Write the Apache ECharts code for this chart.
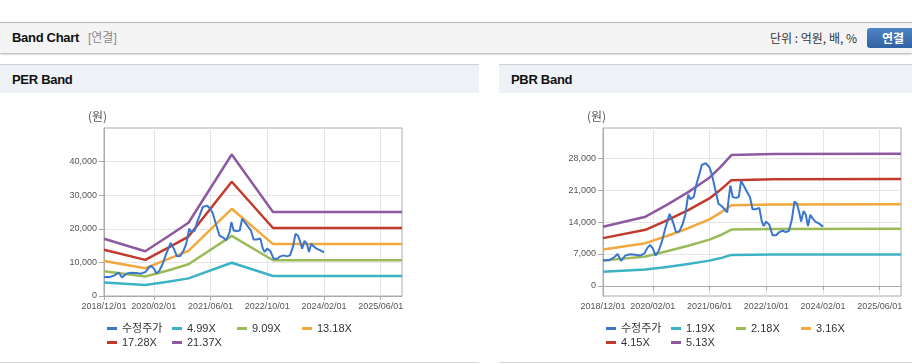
<!DOCTYPE html>
<html>
<head>
<meta charset="utf-8">
<script src="https://cdn.jsdelivr.net/npm/echarts@6/dist/echarts.min.js"></script>
<style>
  body { margin: 0; width: 912px; height: 364px; background: #fff; font-family: Arial, "Liberation Sans", "Noto Sans CJK KR", sans-serif; overflow: hidden; position: relative; }
  #top { position: absolute; left: 0; top: 22px; width: 912px; height: 30px; border-top: 1px solid #b8b8b8; background: #f4f4f4; box-shadow: 0 1px 2px rgba(0,0,0,0.35); }
  #top .title { position: absolute; left: 12px; top: 0; line-height: 30px; font-size: 13px; font-weight: bold; color: #111; letter-spacing: -0.3px; }
  #top .sub { position: absolute; left: 88px; top: 0; line-height: 30px; font-size: 12px; color: #8a8a8a; white-space: nowrap; }
  #top .unit { position: absolute; left: 770px; top: 0; line-height: 30px; font-size: 12px; color: #333; white-space: nowrap; font-family: "Noto Sans CJK KR", sans-serif; }
  #top .btn { position: absolute; left: 867px; top: 5px; width: 52px; height: 20px; line-height: 20px; border-radius: 3px; background: linear-gradient(#4f84c4, #2f62a2); color: #fff; font-size: 12px; font-weight: bold; text-align: center; font-family: "Noto Sans CJK KR", sans-serif; }
  .panel { position: absolute; top: 64px; height: 298px; border-bottom: 1px solid #d8d8d8; }
  .panel .ph { height: 28px; line-height: 30px; border-top: 1px solid #d0d0d0; background: #eef1f6; padding-left: 12px; font-size: 13px; font-weight: bold; color: #111; letter-spacing: -0.3px; }
  .panel .chart { position: absolute; left: 0; top: 29px; height: 269px; }
</style>
</head>
<body>
<div id="top">
  <div class="title">Band Chart</div>
  <div class="sub">[연결]</div>
  <div class="unit">단위 : 억원, 배, %</div>
  <div class="btn">연결</div>
</div>
<div class="panel" style="left:0;width:479px">
  <div class="ph">PER Band</div>
  <div class="chart" id="per" style="width:479px"></div>
</div>
<div class="panel" style="left:499px;width:413px">
  <div class="ph">PBR Band</div>
  <div class="chart" id="pbr" style="width:413px"></div>
</div>
<script>
// x-axis tick labels
var xTicks = ['2018-12-01', '2020-02-01', '2021-06-01', '2022-10-01', '2024-02-01', '2025-06-01'];
var xStart = '2018-12-01';
var xEnd = '2025-12-01';

// 수정주가 (adjusted price)
var priceDates = ['2018-12-01','2019-01-20','2019-03-01','2019-04-05','2019-05-05','2019-06-10','2019-07-20','2019-09-05','2019-10-15','2019-11-22',
  '2019-12-20','2020-01-10','2020-02-03','2020-02-25','2020-03-22','2020-04-18','2020-05-18','2020-06-25','2020-07-22','2020-08-18',
  '2020-09-15','2020-10-15','2020-11-06','2020-12-01','2020-12-20','2021-01-18','2021-02-07','2021-03-01','2021-03-28','2021-05-01',
  '2021-06-01','2021-06-22','2021-07-22','2021-08-18','2021-09-18','2021-10-15','2021-11-01','2021-11-13','2021-11-28','2021-12-18',
  '2022-01-15','2022-02-08','2022-02-28','2022-03-22','2022-04-18','2022-05-15','2022-06-06','2022-07-03','2022-08-03','2022-08-25',
  '2022-09-10','2022-10-01','2022-10-28','2022-11-25','2022-12-25','2023-01-22','2023-02-20','2023-03-18','2023-04-15','2023-05-10',
  '2023-06-01','2023-06-22','2023-07-12','2023-07-28','2023-08-18','2023-09-06','2023-09-25','2023-10-15','2023-11-03','2023-11-28',
  '2024-01-01','2024-02-01'];
var priceValues = [5650, 5650, 6150, 7000, 5500, 6650, 6950, 6850, 6650, 7150,
  8450, 8950, 8150, 6650, 7650, 9600, 12600, 15800, 14100, 11800,
  11900, 13600, 15600, 20000, 19000, 19500, 22000, 24000, 26500, 26900,
  26000, 24500, 21000, 18000, 17400, 16600, 16100, 19000, 22000, 19500,
  19300, 19500, 23000, 22000, 20700, 19500, 16800, 16800, 17100, 14100,
  13100, 14100, 13400, 11100, 11100, 11800, 12100, 11800, 12100, 14600,
  18500, 18000, 16100, 14100, 16400, 15600, 13100, 15600, 14800, 14100,
  13600, 13000];

// PER band
var perNames = ['수정주가', '4.99X', '9.09X', '13.18X', '17.28X', '21.37X'];
var perBandDates = ['2018-12-01', '2019-11-20', '2020-06-01', '2020-11-25', '2021-12-01', '2022-11-20', '2025-12-01'];
var per499 = [4050, 3250, 4250, 5250, 9900, 5950, 5950];
var per909 = [7350, 5800, 7600, 9450, 17900, 10650, 10650];
var per1318 = [10400, 8250, 10950, 13450, 25950, 15450, 15450];
var per1728 = [13750, 10750, 14350, 17700, 34000, 20250, 20250];
var per2137 = [17050, 13300, 17700, 21800, 42100, 25000, 25000];
var perYTicks = [0, 10000, 20000, 30000, 40000];

// PBR band
var pbrNames = ['수정주가', '1.19X', '2.18X', '3.16X', '4.15X', '5.13X'];
var pbrBandDates = ['2018-12-01', '2019-12-01', '2020-06-01', '2020-12-01', '2021-06-01', '2021-09-01', '2021-12-07', '2022-12-01', '2025-12-01'];
var pbr119 = [3100, 3600, 4150, 4800, 5550, 6050, 6800, 6880, 6900];
var pbr218 = [5550, 6450, 7600, 8800, 10150, 11100, 12350, 12480, 12520];
var pbr316 = [8000, 9370, 10950, 12650, 14600, 16000, 17670, 17850, 17880];
var pbr415 = [10480, 12300, 14350, 16600, 19170, 21000, 23180, 23380, 23420];
var pbr513 = [12950, 15170, 17750, 20550, 23700, 25960, 28660, 28930, 28980];
var pbrYTicks = [0, 7000, 14000, 21000, 28000];

var colors = ['#3b76cc', '#3cb3c4', '#9bbb59', '#f2a83c', '#c23a2c', '#8d5aa0'];

function toTime(d) { return echarts.time.parse(d); }

function zip(dates, vals) {
  return dates.map(function (d, i) { return [toTime(d), vals[i]]; });
}

function buildOption(names, bandDates, bands, yMin, yMax, yTicks) {
  var tickTimes = xTicks.map(toTime);
  var series = [];
  bands.forEach(function (b, i) {
    series.push({
      name: names[i + 1], type: 'line', data: zip(bandDates, b),
      showSymbol: false, symbol: 'none', lineStyle: { width: 2.5, color: colors[i + 1] },
      itemStyle: { color: colors[i + 1] }, z: 2
    });
  });
  series.unshift({
    name: names[0], type: 'line', data: zip(priceDates, priceValues),
    showSymbol: false, symbol: 'none', lineStyle: { width: 2, color: colors[0] },
    itemStyle: { color: colors[0] }, z: 5
  });
  var legends = names.map(function (n, i) {
    return {
      data: [n], left: 107 + (i % 4) * 65, top: 230 + Math.floor(i / 4) * 14,
      padding: 0, itemWidth: 10, itemHeight: 3, icon: 'rect', selectedMode: false,
      textStyle: { fontSize: 11, color: '#333', fontFamily: 'Arial, "Noto Sans CJK KR"' }
    };
  });
  return {
    animation: false,
    color: colors,
    grid: { left: 104, top: 35, width: 298, height: 168, show: true, borderColor: '#aaa', borderWidth: 1 },
    legend: legends,
    graphic: [{
      type: 'text', left: 88, top: 17,
      style: { text: '(원)', fill: '#555', font: '12px "Noto Sans CJK KR"' }
    }],
    xAxis: {
      type: 'value', min: toTime(xStart), max: toTime(xEnd),
      axisLine: { lineStyle: { color: '#aaa' } },
      axisTick: { show: true, length: 4, lineStyle: { color: '#aaa' }, customValues: tickTimes },
      axisLabel: {
        customValues: tickTimes, fontSize: 9, color: '#555', margin: 6, fontFamily: 'Arial',
        formatter: function (v) { return echarts.time.format(v, '{yyyy}/{MM}/{dd}', false); }
      },
      splitLine: { show: true, lineStyle: { color: '#e6e6e6' } }
    },
    yAxis: {
      type: 'value', min: yMin, max: yMax,
      axisLine: { show: true, lineStyle: { color: '#aaa' } },
      axisTick: { show: true, length: 5, lineStyle: { color: '#aaa' }, customValues: yTicks },
      axisLabel: {
        customValues: yTicks, fontSize: 9, color: '#555', margin: 7, fontFamily: 'Arial',
        formatter: function (v) { return v.toLocaleString('en-US'); }
      },
      splitLine: { show: true, lineStyle: { color: '#e6e6e6' } }
    },
    series: series
  };
}

var perChart = echarts.init(document.getElementById('per'));
perChart.setOption(buildOption(perNames, perBandDates, [per499, per909, per1318, per1728, per2137], 0, 50000, perYTicks));

var pbrChart = echarts.init(document.getElementById('pbr'));
pbrChart.setOption(buildOption(pbrNames, pbrBandDates, [pbr119, pbr218, pbr316, pbr415, pbr513], -2200, 34600, pbrYTicks));
</script>
</body>
</html>
